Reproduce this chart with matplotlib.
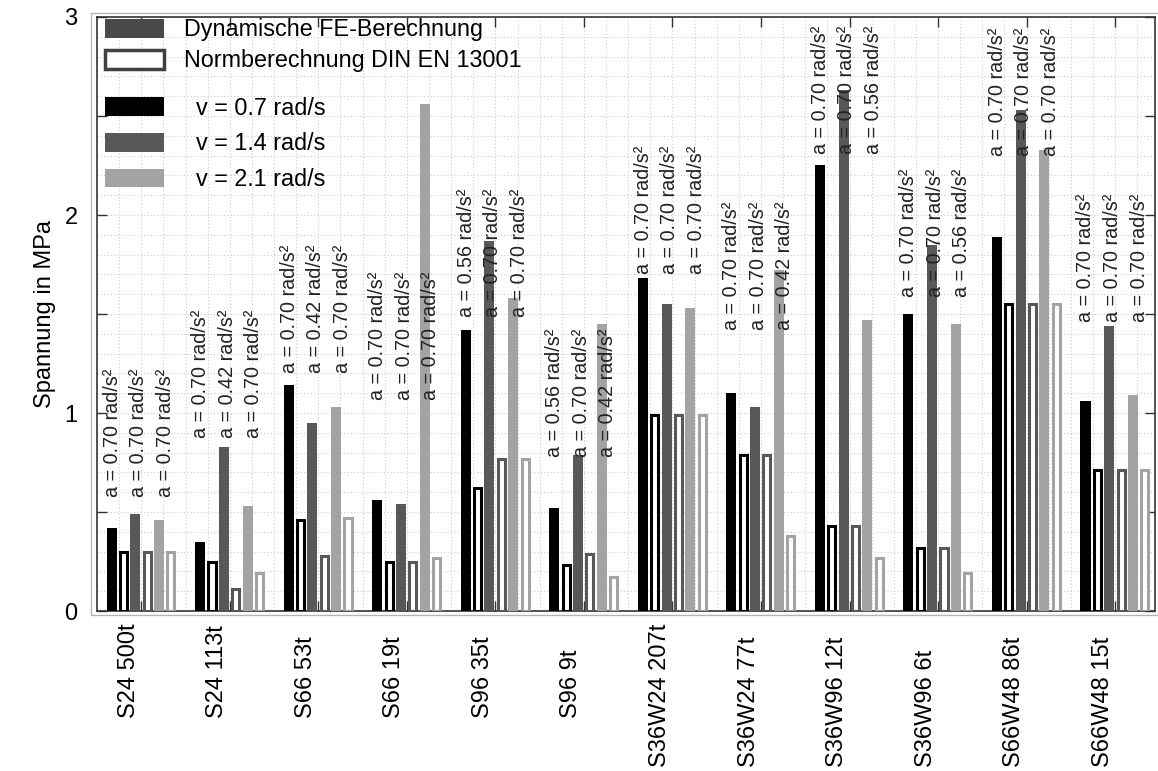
import numpy as np
import matplotlib
matplotlib.use("Agg")
import matplotlib.pyplot as plt
from matplotlib.patches import Patch, Rectangle
from matplotlib.ticker import MultipleLocator

plt.rcParams['font.family'] = ['Liberation Sans', 'DejaVu Sans']

# Data
groups = ['S24 500t', 'S24 113t', 'S66 53t', 'S66 19t', 'S96 35t', 'S96 9t',
          'S36W24 207t', 'S36W24 77t', 'S36W96 12t', 'S36W96 6t', 'S66W48 86t', 'S66W48 15t']

# dynamic FE results per angular speed
fe_07 = [0.42, 0.35, 1.14, 0.56, 1.42, 0.52, 1.68, 1.10, 2.25, 1.50, 1.89, 1.06]
fe_14 = [0.49, 0.83, 0.95, 0.54, 1.87, 0.79, 1.55, 1.03, 2.63, 1.85, 2.53, 1.44]
fe_21 = [0.46, 0.53, 1.03, 2.56, 1.58, 1.45, 1.53, 1.72, 1.47, 1.45, 2.33, 1.09]

# norm calculation DIN EN 13001
norm_07 = [0.30, 0.25, 0.46, 0.25, 0.62, 0.23, 0.99, 0.79, 0.43, 0.32, 1.55, 0.71]
norm_14 = [0.30, 0.11, 0.28, 0.25, 0.77, 0.29, 0.99, 0.79, 0.43, 0.32, 1.55, 0.71]
norm_21 = [0.30, 0.19, 0.47, 0.27, 0.77, 0.17, 0.99, 0.38, 0.27, 0.19, 1.55, 0.71]

# accelerations written above each group
acc_07 = [0.70, 0.70, 0.70, 0.70, 0.56, 0.56, 0.70, 0.70, 0.70, 0.70, 0.70, 0.70]
acc_14 = [0.70, 0.42, 0.42, 0.70, 0.70, 0.70, 0.70, 0.70, 0.70, 0.70, 0.70, 0.70]
acc_21 = [0.70, 0.70, 0.70, 0.70, 0.70, 0.42, 0.70, 0.42, 0.56, 0.56, 0.70, 0.70]

# height where the acceleration labels start
label_base = [0.575, 0.873, 1.20, 1.066, 1.486, 0.78, 1.70, 1.42, 2.31, 1.586, 2.30, 1.46]

speeds = ['v = 0.7 rad/s', 'v = 1.4 rad/s', 'v = 2.1 rad/s']
colors = ['#000000', '#585858', '#a3a3a3']

fig = plt.figure(figsize=(11.58, 7.71), dpi=100)
ax = fig.add_axes([97 / 1158, 160 / 771, 1058 / 1158, 594 / 771])

x = np.arange(1, len(groups) + 1)
step = 0.134
fe_all = [fe_07, fe_14, fe_21]
norm_all = [norm_07, norm_14, norm_21]
acc_all = [acc_07, acc_14, acc_21]
text_off = [-0.33, -0.03, 0.27]

for i in range(3):
    pos_fe = x - 0.335 + 2 * i * step
    pos_norm = pos_fe + step
    ax.bar(pos_fe, fe_all[i], width=0.113, color=colors[i], linewidth=0, zorder=3)
    ax.bar(pos_norm, norm_all[i], width=0.08, facecolor='white', edgecolor=colors[i],
           linewidth=2.2, zorder=3)
    for g in range(len(groups)):
        ax.text(x[g] + text_off[i], label_base[g], 'a = %.2f rad/s²' % acc_all[i][g],
                rotation=90, ha='center', va='bottom', fontsize=14.2, color='#222222', zorder=4)

ax.set_xlim(0.5, 12.45)
ax.set_ylim(0, 3)
ax.set_xticks(x)
ax.set_xticklabels([])
ax.xaxis.set_minor_locator(MultipleLocator(0.25))
ax.set_yticks(np.arange(0, 3.01, 0.5))
ax.set_yticklabels(['0', '', '1', '', '2', '', '3'])
ax.yaxis.set_minor_locator(MultipleLocator(0.1))
ax.tick_params(which='major', direction='in', length=7, width=1, top=True, right=True,
               labelsize=17, pad=14, color='#333333')
ax.tick_params(which='minor', length=0)
ax.grid(which='both', linestyle=(0, (1, 2)), color='#cccccc', linewidth=0.8, zorder=0)
ax.set_axisbelow(True)
for sp in ax.spines.values():
    sp.set_color('#333333')
    sp.set_linewidth(1.2)

ax.set_ylabel('Spannung in MPa', fontsize=17, labelpad=6)

# group names below the axis, rotated
for g, name in enumerate(groups):
    prefix = name.split()[0]
    drop = (107 + (len(prefix) - 3) * 16.3) * 0.72
    ax.annotate(name, xy=(x[g], 0), xycoords=('data', 'axes fraction'),
                xytext=(-9, -drop), textcoords='offset points',
                rotation=90, ha='center', va='bottom', fontsize=17)

# legends
leg1 = ax.legend([Patch(facecolor='#4a4a4a'),
                  Patch(facecolor='white', edgecolor='#404040', linewidth=2.5)],
                 ['Dynamische FE-Berechnung', 'Normberechnung DIN EN 13001'],
                 loc='upper left', bbox_to_anchor=(0.0076, 0.9975), frameon=False,
                 fontsize=16.8, borderpad=0, borderaxespad=0, handlelength=2.54,
                 handleheight=0.85, handletextpad=0.85, labelspacing=0.34)
ax.add_artist(leg1)
ax.legend([Patch(facecolor=c) for c in colors], speeds,
          loc='upper left', bbox_to_anchor=(0.0076, 0.866), frameon=False,
          fontsize=16.8, borderpad=0, borderaxespad=0, handlelength=2.54,
          handleheight=0.85, handletextpad=1.36, labelspacing=0.55)

# light outer frame around the plot area
fig.patches.append(Rectangle((91 / 1158, 156 / 771), 1.0, 602 / 771, transform=fig.transFigure,
                             fill=False, edgecolor='#b4b4b4', linewidth=1))

fig.savefig('out.png', dpi=100)
